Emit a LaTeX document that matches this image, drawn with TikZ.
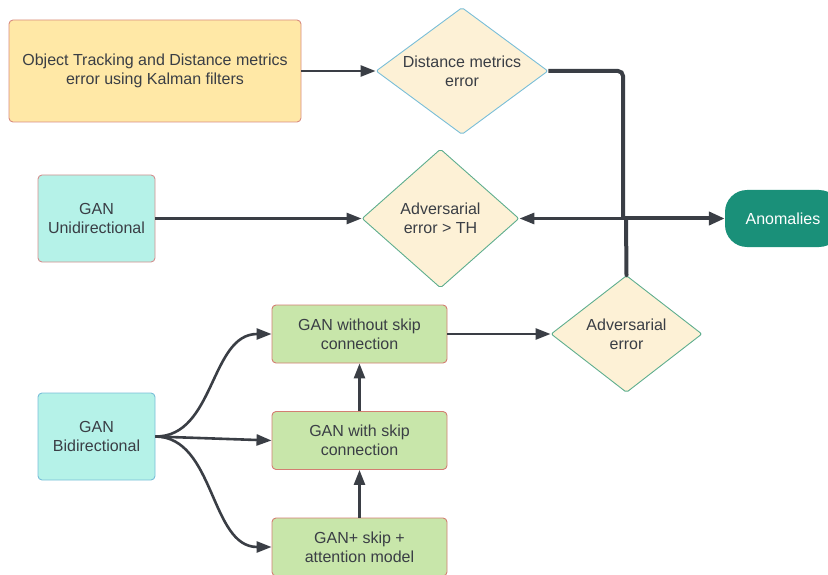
\documentclass[tikz,border=0pt]{standalone}
\usepackage{fontspec}
\setmainfont{Liberation Sans}
\usetikzlibrary{shapes.geometric,arrows.meta}

\definecolor{ink}{HTML}{3A3E45}
\definecolor{sandfill}{HTML}{FFE8A6}
\definecolor{sandedge}{HTML}{D88C80}
\definecolor{creamfill}{HTML}{FDF1D6}
\definecolor{blueedge}{HTML}{79BED8}
\definecolor{tealedge}{HTML}{5EAE8E}
\definecolor{aquafill}{HTML}{B5F2E8}
\definecolor{rosedge}{HTML}{D48F8F}
\definecolor{leaffill}{HTML}{C8E6AA}
\definecolor{leafedge}{HTML}{D37E72}
\definecolor{anomfill}{HTML}{1A9079}

\tikzset{
  every node/.style={font=\fontsize{16}{19}\selectfont, text=ink, align=center},
  box/.style={draw, line width=0.9pt, rounded corners=4pt, inner sep=0pt},
  decision/.style={diamond, draw, fill=creamfill, line width=0.9pt, inner sep=0pt, rounded corners=2pt},
  flow/.style={draw=ink, line width=2.6pt, -{Triangle[length=15pt,width=11pt]}},
  trunk/.style={draw=ink, line width=4pt},
}

\begin{document}
\begin{tikzpicture}[x=1pt,y=-1pt]
\useasboundingbox (0,0) rectangle (828,575);

% source boxes
\node[box, fill=sandfill, draw=sandedge, minimum width=292, minimum height=102] (kal) at (155,71)
  {Object Tracking and Distance metrics\\error using Kalman filters};
\node[box, fill=aquafill, draw=rosedge, minimum width=117, minimum height=87] (uni) at (96.5,218.5)
  {GAN\\Unidirectional};
\node[box, fill=aquafill, draw=blueedge, minimum width=117, minimum height=87] (bi) at (96.5,436.5)
  {GAN\\Bidirectional};

% GAN variants
\node[box, fill=leaffill, draw=leafedge, minimum width=175, minimum height=58] (gwo) at (359.5,334)
  {GAN without skip\\connection};
\node[box, fill=leaffill, draw=leafedge, minimum width=175, minimum height=58] (gws) at (359.5,440.5)
  {GAN with skip\\connection};
\node[box, fill=leaffill, draw=leafedge, minimum width=175, minimum height=58] (gat) at (359.5,547)
  {GAN+ skip +\\attention model};

% decisions
\node[decision, draw=blueedge, aspect=1.35, minimum width=172, minimum height=127] (d1) at (462,71)
  {Distance metrics\\error};
\node[decision, draw=tealedge, aspect=1.13, minimum width=157, minimum height=139] (d2) at (440.5,218.5)
  {Adversarial\\error > TH};
\node[decision, draw=tealedge, aspect=1.29, minimum width=151, minimum height=117] (d3) at (626.5,334)
  {Adversarial\\error};

% result
\node[fill=anomfill, rounded corners=22pt, minimum width=116, minimum height=57, inner sep=0pt, text=white] (anom) at (783,218.5)
  {Anomalies};

\coordinate (j1) at (623,218.5);
\coordinate (j2) at (626,218.5);

% connectors
\draw[flow] (kal.east) -- (d1.west);
\draw[flow] (uni.east) -- (d2.west);
\draw[flow] (gwo.east) -- (d3.west);
\draw[flow] (gws.north) -- (gwo.south);
\draw[flow] (gat.north) -- (gws.south);
\draw[flow] (bi.east) .. controls (215,437) and (210,334) .. (gwo.west);
\draw[flow] (bi.east) -- (gws.west);
\draw[flow] (bi.east) .. controls (215,437) and (210,547) .. (gat.west);

\draw[trunk, rounded corners=5pt] (d1.east) -| (j1);
\draw[trunk, line cap=round] (d3.north) -- (j2);
\draw[flow, line width=3pt] (j2) -- (d2.east);
\draw[trunk, -{Triangle[length=16pt,width=13pt]}] (j1) -- (anom.west);
\end{tikzpicture}
\end{document}
